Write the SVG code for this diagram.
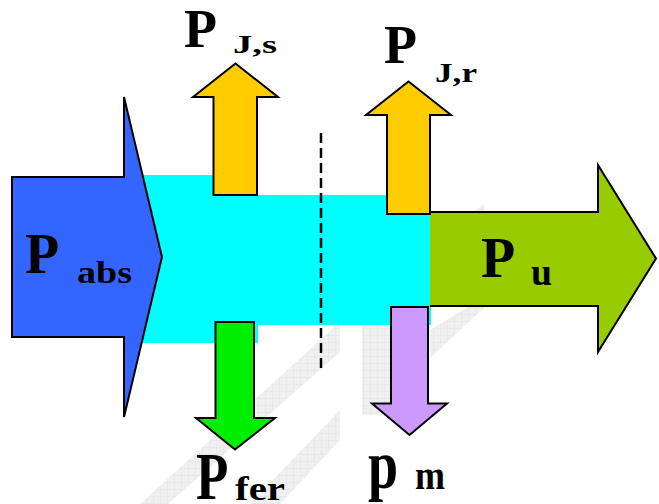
<svg xmlns="http://www.w3.org/2000/svg" width="659" height="504" viewBox="0 0 659 504">
<defs>
<pattern id="grid" width="7" height="7" patternUnits="userSpaceOnUse">
<rect width="7" height="7" fill="#f0f0f0"/>
<path d="M7 0V7M0 7H7" stroke="#e2e2e2" stroke-width="1"/>
</pattern>
<style>
.ar{stroke:#000;stroke-width:2;stroke-linejoin:miter}
.t{font-family:"Liberation Serif","Times New Roman",serif;font-weight:bold;fill:#000}
.wm{fill:url(#grid)}
</style>
</defs>
<rect width="659" height="504" fill="#fff"/>
<g id="watermark">
<polygon class="wm" points="140,504 168,504 340,352 340,322"/>
<polygon class="wm" points="250,504 280,504 340,440 340,410"/>
<rect class="wm" x="362" y="325" width="30" height="90"/>
<polygon class="wm" points="430,330 430,358 484,308 484,204 470,214 470,306"/>
</g>
<g id="band">
<polygon points="142,175 258,175 258,195 431,195 431,325 258,325 258,343 142,343" fill="#00FFFF"/>
</g>
<g id="connectors">
<line x1="321" y1="133" x2="321" y2="368" stroke="#000" stroke-width="2.5" stroke-dasharray="10 5"/>
</g>
<g id="node-pabs">
<polygon class="ar" points="12,177 124,177 124,97 162,257 124,417 124,337 12,337" fill="#3366FF"/>
<text class="t" x="25" y="273" font-size="56">P</text>
<text class="t" x="77" y="283" font-size="31" textLength="55" lengthAdjust="spacingAndGlyphs">abs</text>
</g>
<g id="node-pu">
<polygon points="430,212 598,212 598,165 656,258.5 598,352 598,306 430,306" fill="#99CC00"/>
<polyline class="ar" points="430,212 598,212 598,165 656,258.5 598,352 598,306 430,306" fill="none"/>
<text class="t" x="481" y="277" font-size="56">P</text>
<text class="t" x="531" y="285" font-size="38" textLength="21" lengthAdjust="spacingAndGlyphs">u</text>
</g>
<g id="node-pjs">
<polygon class="ar" points="213.5,195 213.5,97 193,97 235.5,63.5 278,97 257,97 257,195" fill="#FFCC00"/>
<text class="t" x="184" y="47" font-size="54">P</text>
<text class="t" x="233" y="53" font-size="25" textLength="44" lengthAdjust="spacingAndGlyphs">J,s</text>
</g>
<g id="node-pjr">
<polygon class="ar" points="387,214 387,115 366,115 408.5,81.5 451,115 430,115 430,214" fill="#FFCC00"/>
<text class="t" x="384" y="63" font-size="54">P</text>
<text class="t" x="435" y="82" font-size="27" textLength="42" lengthAdjust="spacingAndGlyphs">J,r</text>
</g>
<g id="node-pfer">
<polygon class="ar" points="215.5,322 254,322 254,418 275,418 235,449.5 196,418 215.5,418" fill="#00EE00"/>
<text class="t" transform="translate(196,499) scale(1,1.27)" x="0" y="0" font-size="53">P</text>
<text class="t" transform="translate(235,500) scale(1,1.27)" x="0" y="0" font-size="27" textLength="50" lengthAdjust="spacingAndGlyphs">fer</text>
</g>
<g id="node-pm">
<polygon class="ar" points="391,307 428,307 428,403.5 447,403.5 409.5,435 372,403.5 391,403.5" fill="#CC99FF"/>
<text class="t" transform="translate(368,488) scale(1,1.25)" x="0" y="0" font-size="54">p</text>
<text class="t" transform="translate(415,489) scale(1,1.27)" x="0" y="0" font-size="31" textLength="30" lengthAdjust="spacingAndGlyphs">m</text>
</g>
</svg>
